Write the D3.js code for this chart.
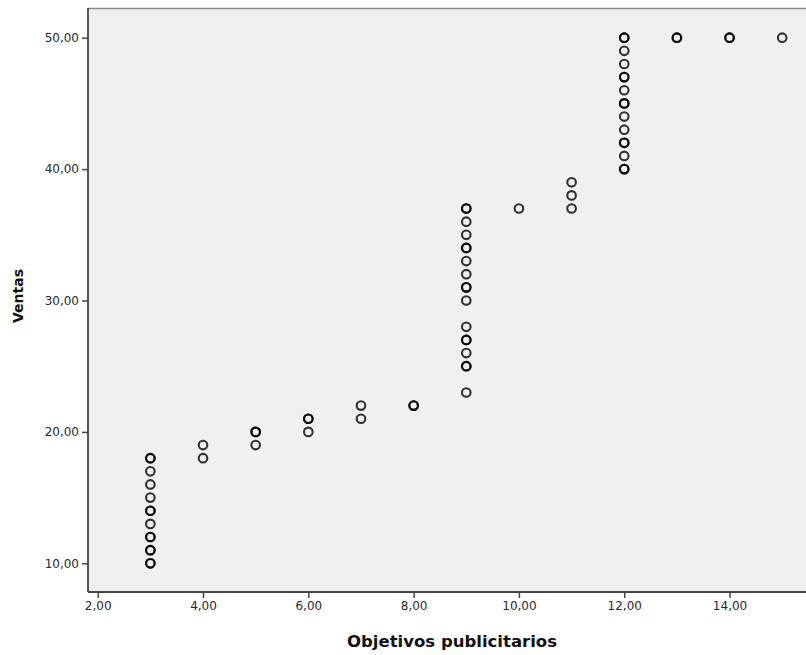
<!DOCTYPE html>
<html>
<head>
<meta charset="utf-8">
<script src="https://cdn.jsdelivr.net/npm/d3@7"></script>
<style>
  html, body { margin: 0; padding: 0; background: #fff; }
  svg { display: block; }
</style>
</head>
<body>
<script>
// Observations: advertising objectives (x) against sales (y).
// Repeated pairs are listed once per case, so coincident circles draw darker.
const objetivos = [
  3,3,3,3,3,3,3,3,3,3,3,3,3,3,
  4,4,
  5,5,5,
  6,6,6,
  7,7,
  8,8,
  9,9,9,9,9,9,9,9,9,9,9,9,9,9,9,9,9,9,
  10,
  11,11,11,
  12,12,12,12,12,12,12,12,12,12,12,12,12,12,12,12,
  13,13,
  14,14,
  15
];
const ventas = [
  10,10,11,12,12,13,14,14,15,16,17,18,18,11,
  18,19,
  19,20,20,
  20,21,21,
  21,22,
  22,22,
  23,25,25,26,27,27,28,30,31,31,32,33,34,34,35,36,37,37,
  37,
  37,38,39,
  40,40,41,42,42,43,44,45,45,46,47,47,48,49,50,50,
  50,50,
  50,50,
  50
];

const xTicks = [2, 4, 6, 8, 10, 12, 14];
const yTicks = [10, 20, 30, 40, 50];
const xTitle = "Objetivos publicitarios";
const yTitle = "Ventas";

const W = 806, H = 655;
const plot = { left: 88, top: 8, right: 806, bottom: 592 };

const fmt = d => d3.format(".2f")(d).replace(".", ",");

const x = d3.scaleLinear().domain([2, 15]).range([97.7, 782.2]);
const y = d3.scaleLinear().domain([10, 50]).range([563.3, 37.7]);

const svg = d3.select("body").append("svg")
  .attr("width", W).attr("height", H);

// plot background
svg.append("rect")
  .attr("x", plot.left).attr("y", plot.top)
  .attr("width", plot.right - plot.left)
  .attr("height", plot.bottom - plot.top)
  .attr("fill", "#f0f0f0");

// top frame line
svg.append("line")
  .attr("x1", plot.left).attr("x2", plot.right)
  .attr("y1", plot.top + 0.5).attr("y2", plot.top + 0.5)
  .attr("stroke", "#8a8a8a").attr("stroke-width", 1.5);

// points
svg.append("g").selectAll("circle")
  .data(objetivos.map((v, i) => [v, ventas[i]]))
  .join("circle")
  .attr("cx", d => x(d[0]))
  .attr("cy", d => y(d[1]))
  .attr("r", 4.3)
  .attr("fill", "none")
  .attr("stroke", "#000")
  .attr("stroke-opacity", 0.8)
  .attr("stroke-width", 2.1);

// axes
const xAxis = svg.append("g")
  .attr("transform", `translate(0,${plot.bottom})`)
  .call(d3.axisBottom(x).tickValues(xTicks).tickFormat(fmt).tickSize(6).tickSizeOuter(0));
const yAxis = svg.append("g")
  .attr("transform", `translate(${plot.left},0)`)
  .call(d3.axisLeft(y).tickValues(yTicks).tickFormat(fmt).tickSize(6).tickSizeOuter(0));

[xAxis, yAxis].forEach(g => {
  g.select(".domain").remove();
  g.selectAll(".tick line").attr("stroke", "#444").attr("stroke-width", 1.5);
  g.selectAll(".tick text")
    .attr("fill", "#2a2a2a")
    .style("font-family", "'DejaVu Sans', sans-serif")
    .style("font-size", "12px");
});
xAxis.selectAll(".tick text").attr("dy", "0.71em").attr("y", 9);
yAxis.selectAll(".tick text").attr("x", -9);

// axis lines
svg.append("line")
  .attr("x1", plot.left).attr("x2", plot.left)
  .attr("y1", plot.top).attr("y2", plot.bottom)
  .attr("stroke", "#444").attr("stroke-width", 1.8);
svg.append("line")
  .attr("x1", plot.left).attr("x2", plot.right)
  .attr("y1", plot.bottom).attr("y2", plot.bottom)
  .attr("stroke", "#444").attr("stroke-width", 1.8);

// axis titles
svg.append("text")
  .attr("x", 452).attr("y", 647)
  .attr("text-anchor", "middle")
  .style("font-family", "'DejaVu Sans', sans-serif")
  .style("font-weight", "bold")
  .style("font-size", "16.5px")
  .attr("fill", "#111")
  .text(xTitle);
svg.append("text")
  .attr("transform", "translate(23,296) rotate(-90)")
  .attr("text-anchor", "middle")
  .style("font-family", "'DejaVu Sans', sans-serif")
  .style("font-weight", "bold")
  .style("font-size", "14px")
  .attr("fill", "#111")
  .text(yTitle);
</script>
</body>
</html>
